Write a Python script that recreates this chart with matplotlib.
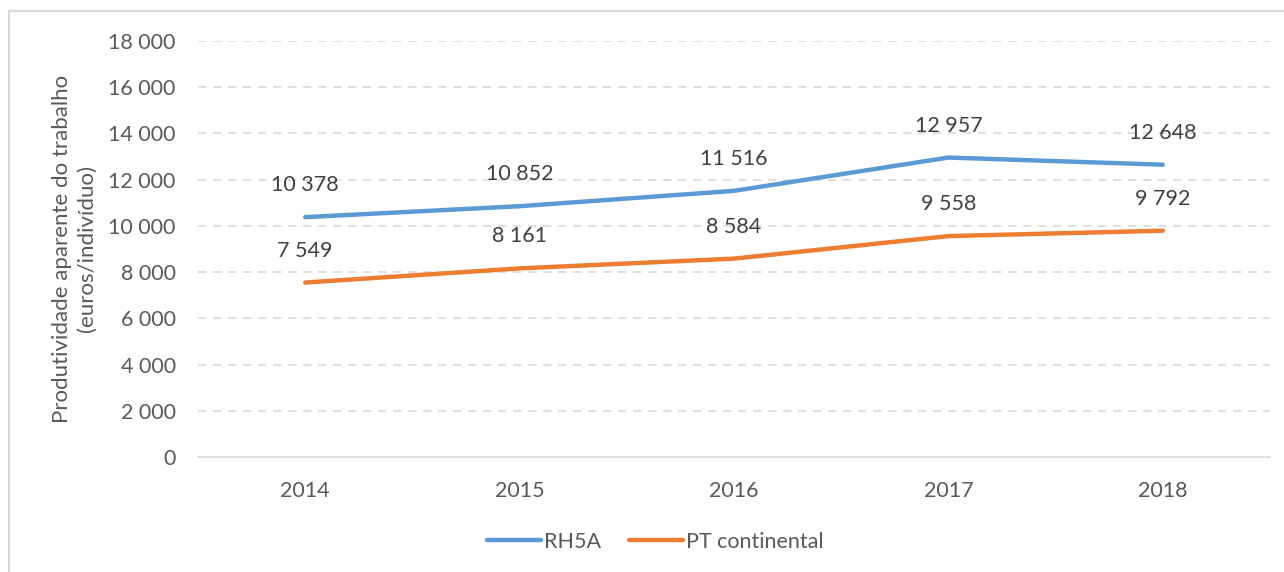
import matplotlib.pyplot as plt
from matplotlib.patches import Rectangle

# Data
years = ['2014', '2015', '2016', '2017', '2018']
rh5a = [10378, 10852, 11516, 12957, 12648]
pt_continental = [7549, 8161, 8584, 9558, 9792]
yticks = [0, 2000, 4000, 6000, 8000, 10000, 12000, 14000, 16000, 18000]

blue = '#5B9BD5'
orange = '#ED7D31'
grid_c = '#D9D9D9'
tick_c = '#595959'
label_c = '#404040'

plt.rcParams['font.family'] = ['Lato', 'DejaVu Sans']


def fmt(v):
    return f'{v:,}'.replace(',', ' ')


fig = plt.figure(figsize=(12.84, 5.72), dpi=100)
ax = fig.add_axes([198 / 1284, 1 - 457 / 572, (1270 - 198) / 1284, (457 - 41) / 572])

x = list(range(len(years)))
ax.plot(x, rh5a, color=blue, lw=3.2, solid_capstyle='round', label='RH5A', zorder=3)
ax.plot(x, pt_continental, color=orange, lw=3.2, solid_capstyle='round', label='PT continental', zorder=3)

# Data labels above each point
for series in (rh5a, pt_continental):
    for xi, v in zip(x, series):
        ax.annotate(fmt(v), (xi, v), xytext=(0, 23), textcoords='offset points',
                    ha='center', va='center', fontsize=15.5, color=label_c)

ax.set_xlim(-0.5, len(years) - 0.5)
ax.set_ylim(0, 18000)
ax.set_xticks(x)
ax.set_xticklabels(years)
ax.set_yticks(yticks)
ax.set_yticklabels([fmt(v) for v in yticks])
ax.tick_params(axis='both', length=0, labelsize=15.5, colors=tick_c)
ax.tick_params(axis='y', pad=16)
ax.tick_params(axis='x', pad=17)

for v in yticks[1:]:
    ax.axhline(v, color=grid_c, lw=1.2, ls=(0, (5, 4)), zorder=1)

for s in ['top', 'right', 'left']:
    ax.spines[s].set_visible(False)
ax.spines['bottom'].set_color(grid_c)
ax.spines['bottom'].set_linewidth(1.2)

ax.set_ylabel('Produtividade aparente do trabalho\n(euros/indivíduo)',
              fontsize=16, color=tick_c, labelpad=8, linespacing=1.3)

ax.legend(loc='center', bbox_to_anchor=(655 / 1284, 1 - 542 / 572),
          bbox_transform=fig.transFigure, ncol=2, frameon=False,
          fontsize=15.5, labelcolor=tick_c, handlelength=2.5,
          handletextpad=0.15, columnspacing=1.3)

# Outer chart border
fig.patches.append(Rectangle((9 / 1284, -0.02), 1.0, 1 - 11 / 572 + 0.02,
                             transform=fig.transFigure, fill=False,
                             edgecolor=grid_c, lw=1.5))

fig.savefig('out.png', dpi=100)
